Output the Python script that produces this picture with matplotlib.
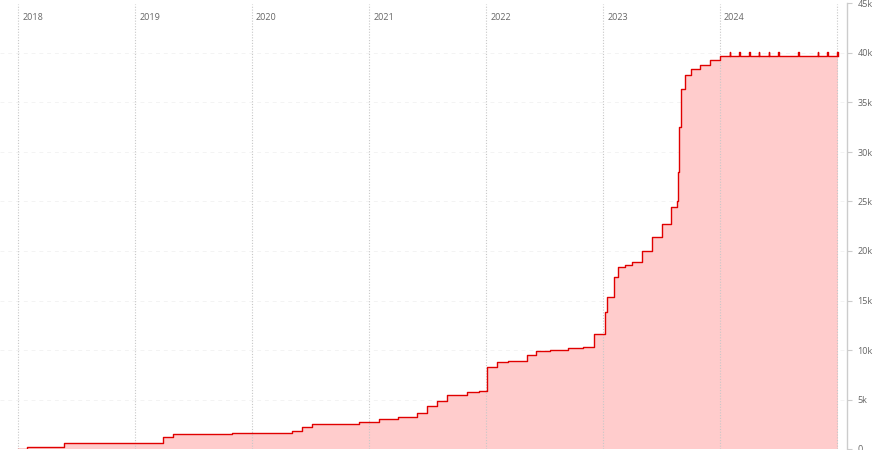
import matplotlib
matplotlib.use("Agg")
import matplotlib.pyplot as plt
import matplotlib.dates as mdates
import numpy as np
import pandas as pd

# ---- data ----
step_dates = [
    "2018-01-01", "2018-01-29", "2018-05-24", "2018-09-01", "2018-12-01",
    "2019-03-31", "2019-05-01", "2019-10-30", "2020-03-01", "2020-05-05",
    "2020-06-05", "2020-07-06", "2020-09-15", "2020-11-30", "2021-02-01",
    "2021-04-01", "2021-05-30", "2021-07-01", "2021-07-31", "2021-09-01",
    "2021-11-02", "2021-12-10", "2022-01-04", "2022-02-04", "2022-03-10",
    "2022-05-08", "2022-06-05", "2022-07-20", "2022-09-15", "2022-11-01",
    "2022-12-03", "2023-01-07", "2023-01-13", "2023-02-04", "2023-02-17",
    "2023-03-10", "2023-04-01", "2023-05-02", "2023-06-02", "2023-07-03",
    "2023-07-31", "2023-08-19", "2023-08-23", "2023-08-26", "2023-09-01",
    "2023-09-13", "2023-10-02", "2023-10-30", "2023-12-01", "2024-01-01",
]
step_values = [
    0, 250, 580, 620, 650,
    1180, 1500, 1600, 1650, 1850,
    2190, 2500, 2560, 2700, 3060,
    3230, 3680, 4300, 4880, 5420,
    5760, 5890, 8310, 8790, 8900,
    9460, 9900, 10050, 10200, 10350,
    11580, 13800, 15400, 17400, 18420,
    18550, 18850, 20030, 21440, 22700,
    24480, 25000, 28000, 32500, 36400,
    37780, 38390, 38800, 39300, 39700,
]
spike_dates = [
    "2024-02-01", "2024-03-01", "2024-04-01", "2024-05-01", "2024-06-01",
    "2024-07-01", "2024-09-01", "2024-11-01", "2024-12-01", "2025-01-01",
]
plateau_value = 39700
spike_value = 40150
end_date = "2025-01-04"

year_labels = ["2018", "2019", "2020", "2021", "2022", "2023", "2024"]
y_ticks = [0, 5000, 10000, 15000, 20000, 25000, 30000, 35000, 40000, 45000]
y_tick_labels = ["0", "5k", "10k", "15k", "20k", "25k", "30k", "35k", "40k", "45k"]

# ---- build series ----
xs = list(pd.to_datetime(step_dates))
ys = list(step_values)
for d in pd.to_datetime(spike_dates):
    xs.append(d); ys.append(spike_value)
    xs.append(d + pd.Timedelta(days=2)); ys.append(plateau_value)
xs.append(pd.to_datetime(end_date)); ys.append(plateau_value)
xs = mdates.date2num(xs)
ys = np.array(ys, dtype=float)

line_color = "#e00000"
fill_color = "#ffcccc"
grey_text = "#666666"

fig = plt.figure(figsize=(8.75, 4.5), dpi=100)
ax = fig.add_axes([0.0, 1 - 449 / 450, 847 / 875, (449 - 3.5) / 450])

ax.fill_between(xs, 0, ys, step="post", color=fill_color, linewidth=0, zorder=1)
ax.plot(xs, ys, drawstyle="steps-post", color=line_color, linewidth=1.0, zorder=3)

# x limits: 2018-01-01 at x=18px, 117px per year
d2018 = mdates.date2num(pd.Timestamp("2018-01-01"))
px_per_day = 117 / 365.25
ax.set_xlim(d2018 - 18 / px_per_day, d2018 + (847 - 18) / px_per_day)
ax.set_ylim(0, 45000)

# vertical year gridlines + labels
for yr in list(range(2018, 2026)):
    xv = mdates.date2num(pd.Timestamp(f"{yr}-01-01"))
    ax.axvline(xv, color="#c8c8c8", linewidth=0.8, linestyle=(0, (1, 1.5)), zorder=2)
for lab in year_labels:
    xv = mdates.date2num(pd.Timestamp(f"{lab}-01-01"))
    ax.annotate(lab, xy=(xv, 1), xycoords=("data", "axes fraction"),
                xytext=(3, -10), textcoords="offset points",
                ha="left", va="center", fontsize=6.5, color=grey_text,
                family="Open Sans")

# faint horizontal gridlines
for yv in y_ticks[1:-1]:
    ax.axhline(yv, color="#f3f3f3", linewidth=0.7, linestyle=(0, (4, 4)), zorder=0.5)

ax.set_xticks([])
ax.yaxis.tick_right()
ax.set_yticks(y_ticks)
ax.set_yticklabels(y_tick_labels)
ax.tick_params(axis="y", length=3.6, width=0.8, color="#cccccc", pad=4,
               labelsize=6.5, labelcolor=grey_text)
for lab in ax.get_yticklabels():
    lab.set_family("Open Sans")

for side in ["top", "left", "bottom"]:
    ax.spines[side].set_visible(False)
ax.spines["right"].set_color("#cccccc")
ax.spines["right"].set_linewidth(1.0)

fig.savefig("out.png", dpi=100)
